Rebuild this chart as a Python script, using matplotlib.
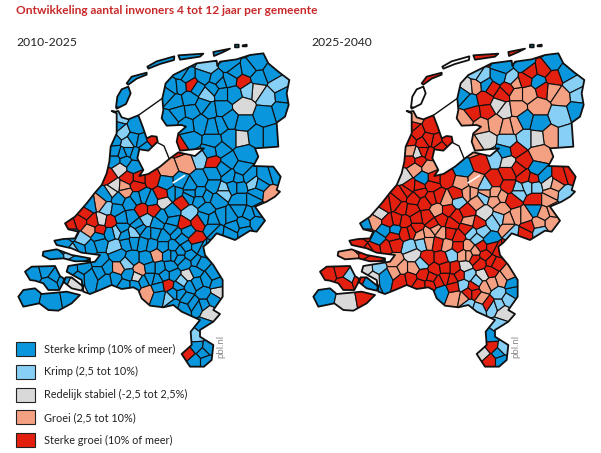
import numpy as np
import matplotlib
matplotlib.use("Agg")
import matplotlib.pyplot as plt
from matplotlib.collections import PolyCollection
from matplotlib.patches import PathPatch, Rectangle
from matplotlib.path import Path

plt.rcParams['font.family'] = ['Lato', 'DejaVu Sans']

title = 'Ontwikkeling aantal inwoners 4 tot 12 jaar per gemeente'
periods = ['2010-2025', '2025-2040']
legend_labels = ['Sterke krimp (10% of meer)', 'Krimp (2,5 tot 10%)',
                 'Redelijk stabiel (-2,5 tot 2,5%)', 'Groei (2,5 tot 10%)',
                 'Sterke groei (10% of meer)']
legend_keys = ['B', 'L', 'G', 'O', 'R']
colors = {'B': '#0a96dc', 'L': '#88cff5', 'G': '#d9d9d9',
          'O': '#f4a083', 'R': '#e3200f', 'W': '#ffffff'}

# outlines are traced at 3x picture scale
coast_north = [(345, 245), (355, 243), (365, 262), (385, 268), (415, 256), (428, 290), (440, 325),
               (455, 318), (470, 320), (473, 335), (445, 362), (418, 358), (412, 385), (430, 420),
               (418, 438), (445, 432), (480, 410), (510, 385), (535, 367), (585, 378), (612, 355),
               (540, 362), (530, 335), (535, 310), (558, 290), (545, 285), (500, 287), (485, 265),
               (490, 240), (487, 205), (497, 160), (520, 135), (560, 115), (590, 100), (650, 92),
               (652, 108), (660, 95), (710, 88), (750, 75), (790, 70), (805, 100), (835, 125),
               (868, 150), (860, 190), (866, 225), (855, 260), (830, 278), (835, 350), (765, 355),
               (775, 380), (760, 408), (820, 410), (842, 440), (830, 480)]
coast_south = [(840, 5), (825, 20), (800, 35), (765, 50), (795, 92), (770, 125), (750, 122), (705, 150),
               (650, 130), (625, 158), (610, 170), (615, 195), (640, 225), (668, 270), (668, 320),
               (640, 360), (660, 372), (640, 395), (600, 420), (600, 440), (640, 465), (635, 510),
               (612, 530), (570, 530), (545, 492), (575, 465), (572, 425), (600, 390), (545, 365),
               (520, 345), (490, 352), (450, 347), (425, 325), (415, 300), (400, 292), (365, 297),
               (335, 285), (300, 300), (270, 312), (250, 305), (245, 270), (200, 245), (205, 228),
               (285, 215), (300, 195), (245, 188), (215, 175), (170, 165), (163, 152), (190, 147),
               (225, 145), (235, 125), (205, 118), (195, 100), (225, 80), (260, 40), (285, 8)]
coast_west = [(305, 465), (320, 430), (328, 395), (332, 350), (350, 310), (350, 250), (335, 243)]

islands_north = [[(348, 232), (352, 200), (365, 178), (385, 170), (392, 190), (378, 222), (350, 236)],
                 [(380, 160), (395, 140), (440, 128), (440, 134), (410, 146), (385, 164)],
                 [(442, 110), (470, 94), (523, 79), (522, 90), (480, 102), (445, 116)],
                 [(535, 76), (610, 71), (600, 80), (540, 89)],
                 [(640, 66), (690, 56), (670, 66), (642, 78)],
                 [(705, 44), (716, 44), (716, 52), (705, 52)],
                 [(728, 46), (740, 44), (740, 49), (728, 49)]]
islands_south = [[(55, 320), (70, 300), (105, 295), (125, 312), (200, 305), (240, 315), (215, 340),
                  (175, 362), (145, 360), (118, 340), (70, 350)],
                 [(75, 245), (95, 230), (165, 228), (180, 258), (195, 268), (178, 300), (145, 300),
                  (130, 280), (105, 272), (90, 270)],
                 [(130, 185), (170, 178), (215, 195), (270, 205), (270, 213), (225, 214), (190, 205),
                  (150, 208), (128, 197)],
                 [(197, 262), (215, 262), (250, 290), (245, 302), (215, 295), (190, 275)]]

# municipalities: x, y, class left map, class right map
cells_wadden = [(368, 205, 'B', 'W'), (410, 145, 'B', 'R'), (480, 98, 'B', 'W'),
                (570, 78, 'B', 'R'), (665, 68, 'B', 'R'), (710, 48, 'B', 'B'), (735, 47, 'B', 'B')]
cells_north = [(620, 110, 'L', 'B'), (690, 105, 'B', 'B'), (770, 98, 'B', 'B'), (815, 130, 'B', 'B'),
               (835, 165, 'L', 'L'), (775, 145, 'B', 'R'), (730, 155, 'R', 'B'), (705, 125, 'B', 'R'),
               (745, 118, 'B', 'R'), (770, 180, 'G', 'O'), (745, 178, 'L', 'R'), (800, 200, 'L', 'O'),
               (850, 195, 'B', 'L'), (845, 240, 'B', 'B'), (795, 255, 'B', 'L'), (730, 230, 'G', 'O'),
               (700, 190, 'B', 'O'), (650, 150, 'B', 'L'), (610, 140, 'B', 'B'), (575, 165, 'R', 'B'),
               (545, 130, 'B', 'L'), (520, 170, 'B', 'G'), (540, 168, 'B', 'O'), (503, 195, 'B', 'B'),
               (525, 215, 'B', 'B'), (620, 195, 'L', 'R'), (665, 190, 'B', 'O'), (660, 160, 'B', 'O'),
               (570, 205, 'B', 'R'), (575, 245, 'B', 'R'), (535, 250, 'B', 'R'), (510, 270, 'B', 'O'),
               (630, 240, 'B', 'G'), (665, 235, 'B', 'O'), (600, 280, 'B', 'O'), (660, 285, 'B', 'O'),
               (730, 280, 'B', 'B'), (765, 320, 'B', 'O'), (815, 320, 'B', 'L'), (725, 325, 'G', 'G'),
               (690, 325, 'B', 'L'), (640, 335, 'B', 'L'), (570, 330, 'B', 'G'), (539, 350, 'R', 'O'),
               (600, 385, 'L', 'L'), (640, 395, 'R', 'G'), (662, 360, 'B', 'R'), (632, 365, 'B', 'B'),
               (735, 370, 'B', 'O'), (685, 395, 'B', 'R'), (725, 420, 'B', 'B'), (558, 400, 'O', 'R'),
               (505, 420, 'O', 'B'), (455, 445, 'R', 'R'), (500, 458, 'B', 'O'), (600, 450, 'B', 'R'),
               (640, 430, 'B', 'R'), (670, 480, 'L', 'L'), (570, 470, 'B', 'L'), (690, 440, 'B', 'R'),
               (720, 470, 'B', 'L'), (760, 460, 'L', 'G'), (795, 440, 'B', 'R'), (810, 495, 'O', 'L'),
               (828, 430, 'B', 'R'), (770, 490, 'B', 'O'), (620, 500, 'B', 'O'),
               # Noord-Holland
               (410, 290, 'B', 'R'), (357, 262, 'L', 'O'), (365, 308, 'L', 'R'), (385, 340, 'L', 'R'),
               (350, 290, 'B', 'R'), (342, 330, 'B', 'R'), (368, 372, 'B', 'G'), (400, 330, 'B', 'R'),
               (425, 335, 'B', 'R'), (458, 330, 'R', 'R'), (436, 350, 'B', 'R'), (345, 365, 'B', 'O'),
               (345, 392, 'B', 'R'), (385, 365, 'B', 'R'), (405, 372, 'B', 'R'), (360, 415, 'G', 'O'),
               (385, 445, 'R', 'B'), (345, 470, 'G', 'R'), (325, 440, 'R', 'G'), (372, 472, 'O', 'R'),
               (410, 465, 'R', 'R'), (415, 445, 'R', 'R'), (400, 410, 'B', 'O'), (375, 392, 'B', 'R')]
cells_north_extra = [(560, 140, 'B', 'L'), (590, 175, 'B', 'R'), (610, 225, 'B', 'G'), (640, 175, 'B', 'R'),
                     (690, 150, 'B', 'R'), (640, 290, 'B', 'O'), (560, 285, 'B', 'O'), (690, 270, 'B', 'B'),
                     (640, 470, 'B', 'R'), (600, 490, 'B', 'O'), (700, 470, 'B', 'L'), (670, 415, 'B', 'R'),
                     (745, 440, 'B', 'B'), (780, 465, 'B', 'O'), (715, 445, 'B', 'R'), (540, 455, 'B', 'O'),
                     (530, 490, 'B', 'O'), (565, 500, 'B', 'L')]
cells_south = [(335, 5, 'G', 'R'), (320, 15, 'B', 'R'), (375, 5, 'O', 'R'), (430, 20, 'B', 'R'),
               (485, 15, 'R', 'R'), (490, 35, 'G', 'L'), (545, 35, 'R', 'O'), (600, 30, 'B', 'O'),
               (670, 5, 'L', 'L'), (650, 30, 'B', 'R'), (720, 30, 'B', 'R'), (760, 30, 'B', 'O'),
               (320, 55, 'L', 'R'), (300, 40, 'O', 'R'), (255, 70, 'R', 'G'), (240, 95, 'R', 'O'),
               (210, 105, 'R', 'B'), (270, 120, 'O', 'B'), (300, 120, 'R', 'B'), (305, 90, 'G', 'R'),
               (330, 95, 'R', 'R'), (350, 60, 'B', 'R'), (390, 40, 'B', 'R'), (425, 60, 'R', 'O'),
               (460, 60, 'R', 'R'), (395, 80, 'B', 'R'), (440, 90, 'L', 'R'), (485, 80, 'B', 'R'),
               (570, 70, 'L', 'G'), (610, 85, 'B', 'L'), (595, 95, 'R', 'L'), (550, 102, 'R', 'R'),
               (665, 80, 'B', 'O'), (720, 60, 'B', 'B'), (700, 110, 'B', 'R'), (770, 100, 'B', 'O'),
               (730, 100, 'B', 'O'), (640, 115, 'B', 'O'), (650, 125, 'B', 'L'), (585, 150, 'R', 'B'),
               (560, 125, 'B', 'L'), (530, 130, 'B', 'L'), (350, 125, 'L', 'R'), (400, 130, 'L', 'O'),
               (440, 130, 'B', 'O'), (490, 140, 'B', 'R'), (345, 170, 'L', 'L'), (300, 160, 'B', 'R'),
               (250, 150, 'L', 'B'), (210, 130, 'B', 'R'), (380, 160, 'B', 'L'), (430, 160, 'B', 'R'),
               (470, 195, 'O', 'L'), (520, 170, 'B', 'O'), (560, 170, 'B', 'R'), (610, 180, 'B', 'R'),
               (155, 195, 'B', 'O'), (235, 203, 'B', 'R'), (190, 158, 'B', 'R'), (270, 170, 'B', 'R'),
               (240, 175, 'B', 'R'), (225, 185, 'L', 'R'), (250, 235, 'B', 'L'), (270, 260, 'B', 'B'),
               (215, 238, 'B', 'G'), (235, 262, 'B', 'G'), (300, 215, 'B', 'O'), (355, 235, 'O', 'O'),
               (420, 240, 'O', 'R'), (380, 220, 'L', 'L'), (320, 270, 'B', 'R'), (375, 285, 'B', 'R'),
               (410, 262, 'G', 'R'), (440, 305, 'O', 'B'), (505, 285, 'R', 'L'), (470, 270, 'B', 'R'),
               (545, 275, 'L', 'L'), (505, 325, 'L', 'O'), (565, 255, 'G', 'G'), (510, 230, 'B', 'G'),
               (480, 235, 'B', 'R'), (600, 220, 'B', 'R'), (620, 270, 'B', 'O'), (610, 310, 'B', 'L'),
               (570, 290, 'B', 'O'), (540, 310, 'B', 'R'), (580, 340, 'B', 'R'), (655, 305, 'G', 'B'),
               (520, 345, 'B', 'L'), (550, 355, 'B', 'L'), (595, 350, 'B', 'L'), (625, 365, 'G', 'G'),
               (610, 410, 'B', 'L'), (588, 440, 'L', 'B'), (565, 490, 'R', 'G'), (590, 470, 'B', 'R'),
               (610, 490, 'B', 'B'), (625, 475, 'B', 'L'), (585, 512, 'B', 'R'), (618, 512, 'B', 'B'),
               (480, 320, 'B', 'O'), (395, 205, 'B', 'R'), (440, 205, 'B', 'R'), (505, 195, 'B', 'O'),
               (540, 205, 'B', 'R'), (570, 195, 'B', 'R'), (590, 215, 'B', 'R'), (100, 250, 'B', 'R'),
               (140, 240, 'B', 'R'), (165, 258, 'B', 'L'), (150, 282, 'B', 'R'), (190, 268, 'B', 'R'),
               (222, 283, 'G', 'B'), (85, 320, 'B', 'B'), (155, 335, 'B', 'G'), (212, 325, 'B', 'R')]
cells_south_extra = [(355, 25, 'B', 'R'), (410, 25, 'B', 'R'), (455, 30, 'B', 'O'), (520, 10, 'B', 'O'),
                     (570, 10, 'B', 'O'), (620, 55, 'B', 'O'), (515, 65, 'B', 'R'), (520, 95, 'B', 'O'),
                     (470, 100, 'B', 'R'), (415, 105, 'B', 'R'), (365, 85, 'B', 'R'), (365, 115, 'B', 'R'),
                     (330, 130, 'B', 'R'), (280, 95, 'R', 'R'), (270, 45, 'B', 'R'), (295, 140, 'B', 'R'),
                     (375, 135, 'B', 'O'), (420, 115, 'B', 'O'), (465, 130, 'B', 'R'), (515, 115, 'B', 'R'),
                     (545, 145, 'B', 'L'), (400, 155, 'B', 'O'), (455, 165, 'B', 'O'), (490, 170, 'B', 'R'),
                     (540, 185, 'B', 'O'), (590, 170, 'B', 'R'), (630, 180, 'B', 'R'), (640, 90, 'B', 'O'),
                     (690, 80, 'B', 'O'), (745, 70, 'B', 'O'), (775, 60, 'B', 'O'), (690, 130, 'B', 'R'),
                     (735, 125, 'B', 'L'), (355, 195, 'B', 'G'), (320, 235, 'B', 'O'), (300, 245, 'B', 'O'),
                     (345, 265, 'B', 'R'), (385, 255, 'B', 'R'), (450, 235, 'B', 'R'), (450, 265, 'B', 'R'),
                     (520, 255, 'B', 'L'), (495, 255, 'B', 'R'), (520, 195, 'B', 'O'), (555, 220, 'B', 'R'),
                     (585, 245, 'B', 'R'), (640, 255, 'B', 'O'), (650, 280, 'B', 'B'), (590, 280, 'B', 'O'),
                     (560, 325, 'B', 'O'), (535, 290, 'B', 'R'), (475, 290, 'B', 'R'), (430, 275, 'B', 'R'),
                     (405, 285, 'B', 'R'), (520, 310, 'B', 'R'), (640, 330, 'B', 'L'), (610, 345, 'B', 'L')]

water_lines = [[(415, 256), (487, 205)], [(473, 338), (492, 348), (507, 385)]]
white_slits = [[(520, 458), (553, 437)]]

SOUTH_SHIFT = 570
NORTH_SHIFT = 90
RIGHT_MAP_DX = 295


def north(points):
    return [(x / 3, (y + NORTH_SHIFT) / 3) for x, y in points]


def south(points):
    return [(x / 3, (y + SOUTH_SHIFT) / 3) for x, y in points]


def clip_half(poly, a, b):
    # keep the part of poly closer to a than to b
    mid = (a + b) / 2
    n = b - a
    out = []
    for i in range(len(poly)):
        p, q = poly[i], poly[(i + 1) % len(poly)]
        dp, dq = np.dot(p - mid, n), np.dot(q - mid, n)
        if dp <= 0:
            out.append(p)
        if dp * dq < 0:
            out.append(p + (q - p) * dp / (dp - dq))
    return out


north_cells = cells_wadden + cells_north + cells_north_extra
south_cells = cells_south + cells_south_extra
seeds = np.array(north([c[:2] for c in north_cells]) + south([c[:2] for c in south_cells]))
cells = north_cells + south_cells
class_left = [c[2] for c in cells]
class_right = [c[3] for c in cells]

polygons = []
for i, s in enumerate(seeds):
    poly = [np.array(p, dtype=float) for p in [(0, 0), (340, 0), (340, 453), (0, 453)]]
    for j, t in enumerate(seeds):
        if i != j and len(poly) > 0:
            poly = clip_half(poly, s, t)
    polygons.append(np.array(poly))

mainland = north(coast_north) + south(coast_south) + north(coast_west)
land_shapes = [mainland] + [north(p) for p in islands_north] + [south(p) for p in islands_south]

fig = plt.figure(figsize=(6.01, 4.53), dpi=100)
ax = fig.add_axes([0, 0, 1, 1])
ax.set_xlim(0, 601)
ax.set_ylim(453, 0)
ax.axis('off')


def draw_map(classes, dx):
    shifted = [p + np.array([dx, 0]) for p in polygons]
    paths = [Path(np.array(s + [s[0]]) + np.array([dx, 0]), closed=True) for s in land_shapes]
    compound = Path.make_compound_path(*paths)
    clip = PathPatch(compound, transform=ax.transData, fc='none', ec='none')
    ax.add_patch(clip)
    coll = PolyCollection(shifted, facecolors=[colors[c] for c in classes],
                          edgecolors='#101010', linewidths=0.8)
    ax.add_collection(coll)
    coll.set_clip_path(clip)
    ax.add_patch(PathPatch(compound, fc='none', ec='#101010', lw=1.3, joinstyle='round'))
    for line in water_lines:
        xy = np.array(north(line))
        ax.plot(xy[:, 0] + dx, xy[:, 1], color='#101010', lw=1.0)
    for line in white_slits:
        xy = np.array(north(line))
        ax.plot(xy[:, 0] + dx, xy[:, 1], color='white', lw=1.2)


draw_map(class_left, 0)
draw_map(class_right, RIGHT_MAP_DX)

ax.text(16, 11, title, color='#c8292b', fontsize=8.6, fontweight='bold', va='center', ha='left')
ax.text(16, 43, periods[0], color='#222222', fontsize=8.7, va='center')
ax.text(311, 43, periods[1], color='#222222', fontsize=8.7, va='center')

for i, (label, key) in enumerate(zip(legend_labels, legend_keys)):
    y = 342 + i * 22.8
    ax.add_patch(Rectangle((16, y), 19, 14, fc=colors[key], ec='#222222', lw=0.8))
    ax.text(44, y + 7, label, color='#222222', fontsize=7.85, va='center')

ax.text(221, 346, 'pbl.nl', color='#8c8c8c', fontsize=7, rotation=90, va='center', ha='center')
ax.text(516, 346, 'pbl.nl', color='#8c8c8c', fontsize=7, rotation=90, va='center', ha='center')

fig.savefig('out.png', dpi=100)
